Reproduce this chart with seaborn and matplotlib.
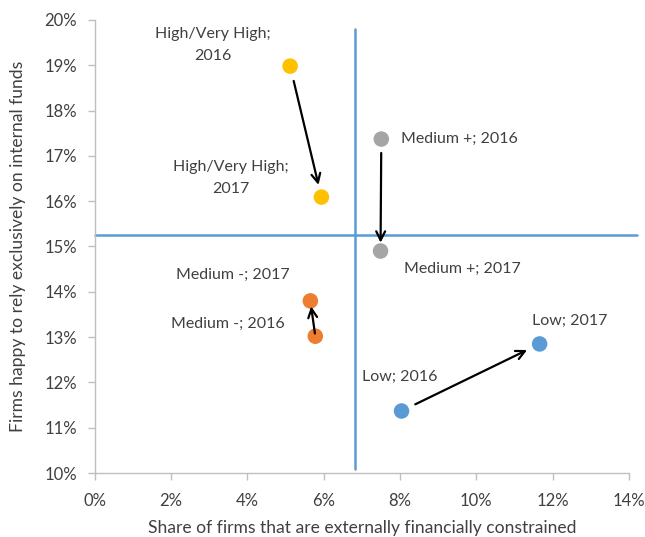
import pandas as pd
import matplotlib.pyplot as plt
import seaborn as sns
from matplotlib.ticker import PercentFormatter, MultipleLocator

# Data (percent)
groups = ["High/Very High", "High/Very High", "Medium +", "Medium +",
          "Medium -", "Medium -", "Low", "Low"]
years = [2016, 2017, 2016, 2017, 2016, 2017, 2016, 2017]
constrained = [5.12, 5.94, 7.51, 7.49, 5.78, 5.65, 8.04, 11.66]
internal_funds = [18.98, 16.09, 17.37, 14.90, 13.02, 13.80, 11.37, 12.85]
labels = ["High/Very High;\n2016", "High/Very High;\n2017", "Medium +; 2016", "Medium +; 2017",
          "Medium -; 2016", "Medium -; 2017", "Low; 2016", "Low; 2017"]
x_split = 6.83
y_split = 15.25

colors = {"High/Very High": "#FFC000", "Medium +": "#A5A5A5",
          "Medium -": "#ED7D31", "Low": "#5B9BD5"}

df = pd.DataFrame({"group": groups, "year": years,
                   "x": constrained, "y": internal_funds, "label": labels})

sns.set_style("white")
plt.rcParams["font.family"] = ["Lato", "DejaVu Sans"]

fig = plt.figure(figsize=(6.45, 5.37), dpi=100)
ax = fig.add_axes([0.147, 0.119, 0.828, 0.844])

# quadrant lines
ax.plot([x_split, x_split], [10.1, 19.8], color="#5B9BD5", lw=1.8, zorder=1)
ax.plot([0, 14.2], [y_split, y_split], color="#5B9BD5", lw=1.8, zorder=1, clip_on=False)

sns.scatterplot(data=df, x="x", y="y", hue="group", palette=colors, s=125,
                edgecolor="none", legend=False, ax=ax, zorder=3)

# label offsets in pixels (dx, dy) and alignment
offsets = [(-77, 21, "center"), (-91, 19, "center"), (20, 0, "left"), (23, -18, "left"),
           (-87, 12, "center"), (-78, 26, "center"), (-2, 34, "center"), (30, 23, "center")]
for (_, r), (dx, dy, ha) in zip(df.iterrows(), offsets):
    ax.annotate(r["label"], (r["x"], r["y"]), xytext=(dx, dy), textcoords="offset pixels",
                ha=ha, va="center", fontsize=11.5, color="#404040", linespacing=1.75)

# arrows 2016 -> 2017
shrinks = {"High/Very High": (11, 9), "Medium +": (10, 6),
           "Medium -": (2, 4), "Low": (11, 10)}
for g, (sa, sb) in shrinks.items():
    a = df[(df.group == g) & (df.year == 2016)].iloc[0]
    b = df[(df.group == g) & (df.year == 2017)].iloc[0]
    ax.annotate("", xy=(b["x"], b["y"]), xytext=(a["x"], a["y"]),
                arrowprops=dict(arrowstyle="->", color="black", lw=1.6,
                                shrinkA=sa, shrinkB=sb, mutation_scale=16), zorder=4)

ax.set_xlim(0, 14)
ax.set_ylim(10, 20)
ax.xaxis.set_major_locator(MultipleLocator(2))
ax.yaxis.set_major_locator(MultipleLocator(1))
ax.xaxis.set_major_formatter(PercentFormatter(decimals=0))
ax.yaxis.set_major_formatter(PercentFormatter(decimals=0))

for s in ["top", "right"]:
    ax.spines[s].set_visible(False)
for s in ["left", "bottom"]:
    ax.spines[s].set_color("#BFBFBF")
    ax.spines[s].set_linewidth(1)
ax.tick_params(axis="both", which="major", length=5, width=1, color="#BFBFBF",
               labelsize=12, labelcolor="#404040", direction="out", bottom=True, left=True)
ax.tick_params(axis="x", pad=9)
ax.tick_params(axis="y", pad=8)

ax.set_xlabel("Share of firms that are externally financially constrained",
              fontsize=12.6, color="#404040", labelpad=8)
ax.set_ylabel("Firms happy to rely exclusively on internal funds",
              fontsize=12.6, color="#404040", labelpad=13)

plt.savefig("out.png", dpi=100)
